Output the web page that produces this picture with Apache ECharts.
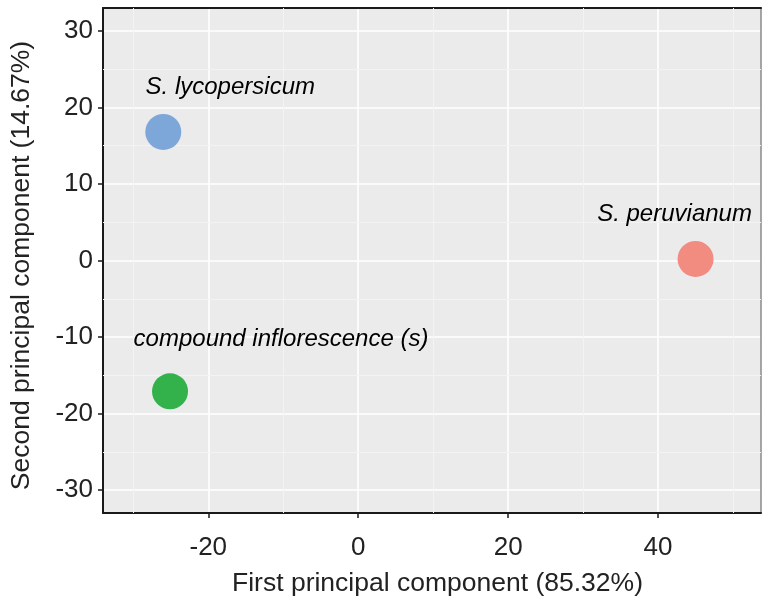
<!DOCTYPE html>
<html>
<head>
<meta charset="utf-8">
<script src="https://cdn.jsdelivr.net/npm/echarts@6/dist/echarts.min.js"></script>
<style>
  html, body { margin: 0; padding: 0; background: #ffffff; }
  #chart { width: 762px; height: 597px; }
</style>
</head>
<body>
<div id="chart"></div>
<script>
// PCA scores of the three samples
const sampleNames = ['S. lycopersicum', 'S. peruvianum', 'compound inflorescence (s)'];
const pc1 = [-26.0, 45.0, -25.1];
const pc2 = [16.8, 0.2, -17.1];
const pointColors = ['#7ea7d9', '#f28b80', '#33b24b'];

// axis titles and visible tick values
const xTitle = 'First principal component (85.32%)';
const yTitle = 'Second principal component (14.67%)';
const xTicks = [-20, 0, 20, 40];
const yTicks = [-30, -20, -10, 0, 10, 20, 30];
const xMinorGrid = [-30, -10, 10, 30, 50];
const yMinorGrid = [-25, -15, -5, 5, 15, 25];

// label placement relative to each point (pixels)
const labelOffsets = [[67, -45], [-21, -45], [111, -52]];

const FONT = 'Liberation Sans';
const X_RANGE = [-34.04, 53.73];
const Y_RANGE = [-33.0, 33.0];

const chart = echarts.init(document.getElementById('chart'), null, { renderer: 'canvas' });

const majorSplit = { show: true, lineStyle: { color: '#ffffff', width: 1.6 } };

const points = sampleNames.map((name, i) => ({
  name: name,
  value: [pc1[i], pc2[i]],
  itemStyle: { color: pointColors[i], opacity: 1 },
  label: {
    show: true,
    position: 'inside',
    offset: labelOffsets[i],
    formatter: name,
    fontFamily: FONT,
    fontStyle: 'italic',
    fontSize: 24,
    color: '#000000',
    align: 'center',
    verticalAlign: 'middle'
  }
}));

const option = {
  animation: false,
  backgroundColor: '#ffffff',
  grid: {
    left: 103, right: 1, top: 8, bottom: 84,
    outerBoundsMode: 'none',
    containLabel: false,
    show: true, backgroundColor: '#ebebeb', borderWidth: 0
  },
  xAxis: [{
    type: 'value',
    min: X_RANGE[0], max: X_RANGE[1],
    splitNumber: 5,
    name: xTitle,
    nameLocation: 'middle',
    nameGap: 57,
    nameTextStyle: { fontFamily: FONT, fontSize: 26.5, color: '#222222', padding: [0, 0, 0, 11] },
    axisLine: { show: true, onZero: false, lineStyle: { color: '#1a1a1a', width: 2 } },
    axisTick: { show: true, customValues: xTicks, length: 5, lineStyle: { color: '#1a1a1a', width: 1.5 } },
    axisLabel: { customValues: xTicks, margin: 22, fontFamily: FONT, fontSize: 26, color: '#222222' },
    splitLine: majorSplit
  }, {
    type: 'value', position: 'top',
    min: X_RANGE[0], max: X_RANGE[1],
    axisLine: { show: true, onZero: false, lineStyle: { color: '#1a1a1a', width: 2 } },
    axisTick: { show: false }, axisLabel: { show: false }, splitLine: { show: false }
  }],
  yAxis: [{
    type: 'value',
    min: Y_RANGE[0], max: Y_RANGE[1],
    splitNumber: 7,
    name: yTitle,
    nameLocation: 'middle',
    nameGap: 68,
    nameTextStyle: { fontFamily: FONT, fontSize: 26.5, color: '#222222', padding: [0, 10, 0, 0] },
    axisLine: { show: true, onZero: false, lineStyle: { color: '#1a1a1a', width: 2 } },
    axisTick: { show: true, customValues: yTicks, length: 5, lineStyle: { color: '#1a1a1a', width: 1.5 } },
    axisLabel: { customValues: yTicks, margin: 10, fontFamily: FONT, fontSize: 26, color: '#222222' },
    splitLine: majorSplit
  }, {
    type: 'value', position: 'right',
    min: Y_RANGE[0], max: Y_RANGE[1],
    axisLine: { show: true, onZero: false, lineStyle: { color: '#8a8a8a', width: 1.5 } },
    axisTick: { show: false }, axisLabel: { show: false }, splitLine: { show: false }
  }],
  series: [{
    type: 'scatter',
    symbol: 'circle',
    symbolSize: 36,
    z: 5,
    data: points,
    markLine: {
      silent: true,
      symbol: ['none', 'none'],
      label: { show: false },
      lineStyle: { color: '#f3f3f3', width: 1, type: 'solid' },
      z: 1,
      data: xMinorGrid.map(v => ({ xAxis: v })).concat(yMinorGrid.map(v => ({ yAxis: v })))
    }
  }]
};

chart.setOption(option);
</script>
</body>
</html>
